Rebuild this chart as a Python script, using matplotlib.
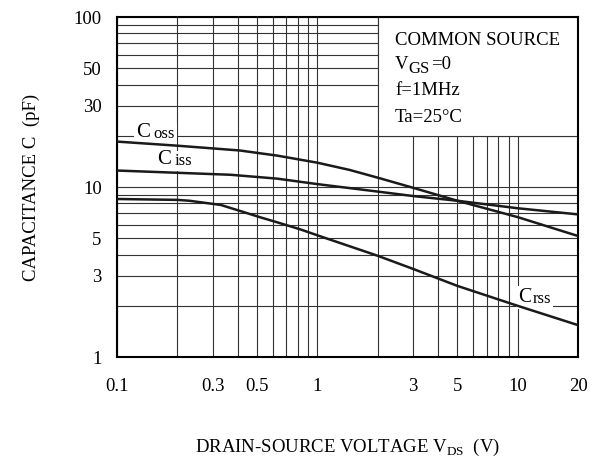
import numpy as np
import matplotlib.pyplot as plt
from matplotlib.patches import Rectangle
from matplotlib.ticker import FixedLocator, NullFormatter, LogLocator

plt.rcParams['font.family'] = ['Liberation Serif', 'DejaVu Serif']
plt.rcParams['mathtext.fontset'] = 'custom'
plt.rcParams['mathtext.rm'] = 'Liberation Serif'

# Drain-source voltage (V) and capacitance (pF)
vds_oss = [0.1, 0.2, 0.41, 0.63, 1, 1.45, 2, 3, 5, 10, 20]
c_oss = [18.5, 17.5, 16.4, 15.3, 13.9, 12.6, 11.35, 9.9, 8.3, 6.65, 5.15]

vds_iss = [0.1, 0.37, 0.63, 1, 2, 3, 5, 10, 20]
c_iss = [12.5, 11.8, 11.2, 10.4, 9.4, 8.85, 8.3, 7.5, 6.9]

vds_rss = [0.1, 0.2, 0.23, 0.33, 0.41, 0.52, 0.63, 0.82, 1, 2, 3, 5, 10, 20]
c_rss = [8.5, 8.4, 8.3, 7.84, 7.24, 6.63, 6.2, 5.64, 5.2, 3.94, 3.3, 2.62, 2.0, 1.54]

x_ticks = [0.1, 0.3, 0.5, 1, 3, 5, 10, 20]
y_ticks = [1, 3, 5, 10, 30, 50, 100]

fig = plt.figure(figsize=(6.08, 4.57), dpi=100)
ax = fig.add_axes([0.1924, 0.2188, 0.7583, 0.744])
ax.set_xscale('log')
ax.set_yscale('log')
ax.set_xlim(0.1, 20)
ax.set_ylim(1, 100)

# grid
ax.xaxis.set_major_locator(FixedLocator(x_ticks))
ax.yaxis.set_major_locator(FixedLocator(y_ticks))
ax.xaxis.set_minor_locator(LogLocator(base=10, subs=np.arange(1, 10)))
ax.yaxis.set_minor_locator(LogLocator(base=10, subs=np.arange(1, 10)))
ax.xaxis.set_minor_formatter(NullFormatter())
ax.yaxis.set_minor_formatter(NullFormatter())
ax.set_xticklabels([str(t) for t in x_ticks])
ax.set_yticklabels([str(t) for t in y_ticks])
ax.grid(True, which='both', color='#333333', linewidth=0.8)
ax.set_axisbelow(True)
ax.tick_params(which='both', length=0)
ax.tick_params(axis='x', pad=15, labelsize=13.5)
ax.tick_params(axis='y', pad=11, labelsize=13.5)
for s in ax.spines.values():
    s.set_linewidth(1.5)

# condition box
ax.add_patch(Rectangle((2, 20), 18, 80, facecolor='white', edgecolor='#333333',
                       linewidth=0.8, zorder=2))
tx = 0.603
ax.text(tx, 0.955, 'COMMON SOURCE', transform=ax.transAxes, fontsize=13.5, va='top', zorder=3)
v = ax.text(tx, 0.885, 'V', transform=ax.transAxes, fontsize=13.5, va='top', zorder=3)
gs = ax.annotate('GS', xy=(1, 0), xycoords=v, xytext=(0, -3), textcoords='offset points',
                 fontsize=12, va='bottom', zorder=3)
ax.annotate('=0', xy=(1, 0), xycoords=gs, xytext=(1, 3), textcoords='offset points',
            fontsize=13.5, va='bottom', zorder=3)
ax.text(tx, 0.808, 'f=1MHz', transform=ax.transAxes, fontsize=13.5, va='top', zorder=3)
ax.text(tx, 0.728, 'Ta=25°C', transform=ax.transAxes, fontsize=13.5, va='top', zorder=3)

# curves
for vv, c in [(vds_oss, c_oss), (vds_iss, c_iss), (vds_rss, c_rss)]:
    ax.plot(vv, c, color='#1a1a1a', linewidth=1.8, zorder=4)

# curve labels
bb = dict(facecolor='white', edgecolor='none', pad=1.5)
for x, y, sub, gap in [(0.125, 19.7, 'oss', 2.5), (0.158, 13.6, 'iss', 2.5), (10.1, 2.1, 'rss', 0.3)]:
    t = ax.text(x, y, 'C', fontsize=15, va='baseline', bbox=bb, zorder=3)
    ax.annotate(sub, xy=(1, 0), xycoords=t, xytext=(gap, 0), textcoords='offset points',
                fontsize=12, va='bottom', bbox=bb, zorder=3)

ax.set_xlabel(r'DRAIN-SOURCE VOLTAGE V$_{\mathregular{DS}}$  (V)', fontsize=13.5, labelpad=30)
ax.set_ylabel('CAPACITANCE C  (pF)', fontsize=13.5, labelpad=24)

fig.savefig('out.png', dpi=100)
